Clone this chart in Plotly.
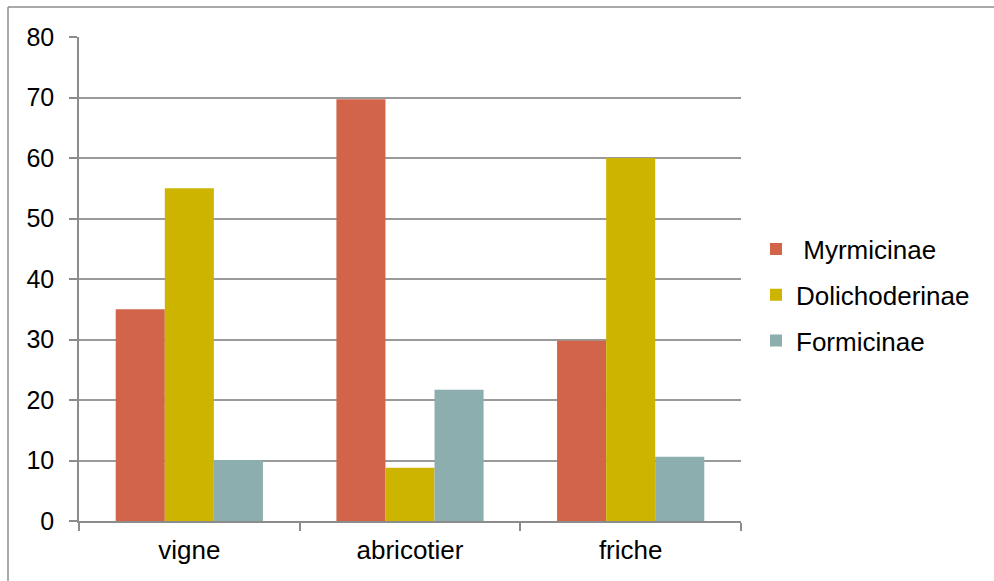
import plotly.graph_objects as go

categories = ["vigne", "abricotier", "friche"]
series_names = ["Myrmicinae", "Dolichoderinae", "Formicinae"]
myrmicinae = [35, 69.7, 29.8]
dolichoderinae = [55, 8.8, 60]
formicinae = [10.1, 21.7, 10.6]
colors = ["#D2644A", "#CDB400", "#8DAEAE"]
y_ticks = [0, 10, 20, 30, 40, 50, 60, 70, 80]

FONT = "Liberation Sans, Arial, sans-serif"
FS = 26
W, H = 994, 581
L, R, T, B = 79, 253, 37, 60
pw = W - L - R
ph = H - T - B

fig = go.Figure()
for i, (name, vals) in enumerate(zip(series_names, [myrmicinae, dolichoderinae, formicinae])):
    label = ("\u00a0" + name) if i == 0 else name
    fig.add_trace(go.Bar(
        x=categories, y=vals, name=label,
        marker=dict(color=colors[i], line=dict(width=0)),
        legendgroup=name,
    ))

# outer frame lines (top and left)
px2x = lambda px: (px - L) / pw
py2y = lambda py: (H - B - py) / ph
fig.add_shape(type="line", xref="paper", yref="paper",
              x0=px2x(8), x1=px2x(W + 5), y0=py2y(7), y1=py2y(7),
              line=dict(color="#8c8c8c", width=1.5))
fig.add_shape(type="line", xref="paper", yref="paper",
              x0=px2x(8), x1=px2x(8), y0=py2y(7), y1=py2y(H + 5),
              line=dict(color="#8c8c8c", width=1.5))

fig.update_layout(
    width=W, height=H,
    margin=dict(l=L, r=R, t=T, b=B),
    paper_bgcolor="white", plot_bgcolor="white",
    barmode="group", bargap=0.333, bargroupgap=0,
    font=dict(family=FONT, size=FS, color="black"),
    showlegend=True,
    legend=dict(
        x=px2x(756), xanchor="left",
        y=py2y(295), yanchor="middle",
        traceorder="grouped", tracegroupgap=9,
        font=dict(family=FONT, size=FS, color="black"),
        bgcolor="rgba(0,0,0,0)",
    ),
    xaxis=dict(
        showline=True, linecolor="#8c8c8c", linewidth=1.5,
        ticks="outside", tickson="boundaries", ticklen=8, tickcolor="#8c8c8c", tickwidth=1.5,
        showgrid=False, ticklabelstandoff=5,
        tickfont=dict(family=FONT, size=FS, color="black"),
    ),
    yaxis=dict(
        range=[0, 80], tickvals=y_ticks,
        showline=True, linecolor="#8c8c8c", linewidth=1.5,
        ticks="outside", ticklen=8, tickcolor="#8c8c8c", tickwidth=1.5,
        showgrid=True, gridcolor="#9a9a9a", gridwidth=1.5,
        zeroline=False, ticklabelstandoff=10,
        tickfont=dict(family=FONT, size=25, color="black"),
    ),
)

fig.write_html("out.html")
